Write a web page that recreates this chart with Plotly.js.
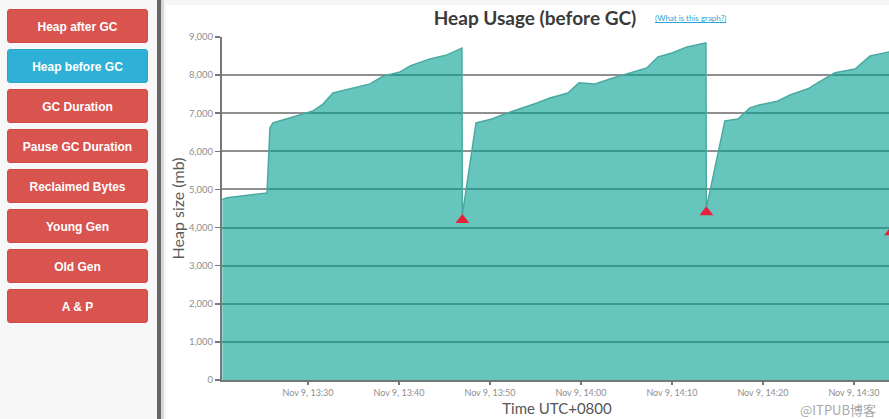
<!DOCTYPE html>
<html>
<head>
<meta charset="utf-8">
<script src="https://cdn.plot.ly/plotly-3.0.1.min.js"></script>
<style>
  html, body { margin: 0; padding: 0; width: 889px; height: 419px; overflow: hidden; background: #f6f6f6; }
  #side { position: absolute; left: 0; top: 0; width: 157px; height: 419px; background: #f7f7f7; }
  .btn { position: absolute; left: 7px; width: 141px; height: 34px; border-radius: 3px;
         background: #d9534f; color: #fff; font-family: "Liberation Sans", Arial, sans-serif;
         font-weight: bold; font-size: 12px; line-height: 34px; text-align: center;
         box-sizing: border-box; border: 1px solid #d04a47; }
  .btn.active { background: #2fb1d7; border-color: #2aa6cb; }
  #divider { position: absolute; left: 157px; top: 0; width: 4px; height: 419px; background: #666; }
  #divider2 { position: absolute; left: 161px; top: 0; width: 3px; height: 419px; background: #d8d8d8; }
  #card { position: absolute; left: 166px; top: 5px; width: 760px; height: 420px; background: #fff; }
  #chart { position: absolute; left: 0; top: 0; width: 910px; height: 419px; }
  #link { position: absolute; left: 655px; top: 13px; font-family: Lato, sans-serif; font-size: 8px;
          color: #2aa6d6; text-decoration: underline; }
  #mark { position: absolute; left: 800px; top: 402px; font-family: "Noto Sans CJK SC", sans-serif; font-size: 13px;
          line-height: 15px; color: #a8a8a8; }
</style>
</head>
<body>
<div id="card"></div>
<div id="chart"></div>
<div id="side"></div>
<div id="divider"></div>
<div id="divider2"></div>
<div id="link">(What is this graph?)</div>
<div id="mark">@ITPUB博客</div>
<script>
// ---- data ----
var buttonLabels = ["Heap after GC", "Heap before GC", "GC Duration", "Pause GC Duration",
                    "Reclaimed Bytes", "Young Gen", "Old Gen", "A & P"];
var activeButton = "Heap before GC";

var heapTimes = [
  "2016-11-09 13:20:35", "2016-11-09 13:21:06", "2016-11-09 13:25:30", "2016-11-09 13:25:49",
  "2016-11-09 13:26:09", "2016-11-09 13:30:33", "2016-11-09 13:31:39", "2016-11-09 13:32:45",
  "2016-11-09 13:36:49", "2016-11-09 13:38:14", "2016-11-09 13:40:07", "2016-11-09 13:41:13",
  "2016-11-09 13:43:24", "2016-11-09 13:45:16", "2016-11-09 13:46:55", "2016-11-09 13:46:58",
  "2016-11-09 13:48:28", "2016-11-09 13:50:13", "2016-11-09 13:51:19", "2016-11-09 13:53:38",
  "2016-11-09 13:55:10", "2016-11-09 13:56:35", "2016-11-09 13:58:34", "2016-11-09 13:59:47",
  "2016-11-09 14:01:32", "2016-11-09 14:03:31", "2016-11-09 14:05:23", "2016-11-09 14:07:15",
  "2016-11-09 14:08:28", "2016-11-09 14:10:00", "2016-11-09 14:11:39", "2016-11-09 14:13:44",
  "2016-11-09 14:13:47", "2016-11-09 14:15:49", "2016-11-09 14:17:15", "2016-11-09 14:18:34",
  "2016-11-09 14:19:40", "2016-11-09 14:21:39", "2016-11-09 14:22:58", "2016-11-09 14:24:57",
  "2016-11-09 14:26:03", "2016-11-09 14:27:55", "2016-11-09 14:30:07", "2016-11-09 14:31:46",
  "2016-11-09 14:33:51", "2016-11-09 14:34:04", "2016-11-09 14:34:05"
];
var heapValues = [
  4740, 4780, 4910, 6610,
  6745, 7060, 7240, 7530,
  7770, 7970, 8085, 8240,
  8425, 8530, 8710, 4330,
  6745, 6850, 6955, 7140,
  7270, 7400, 7530, 7800,
  7770, 7925, 8055, 8190,
  8480, 8580, 8740, 8845,
  4510, 6800, 6850, 7140,
  7220, 7320, 7480, 7640,
  7800, 8060, 8160, 8500,
  8610, 8640, 4000
];

var gcTimes = ["2016-11-09 13:46:58", "2016-11-09 14:13:47", "2016-11-09 14:34:05"];
var gcValues = [4200, 4400, 3880];

var xRange = ["2016-11-09 13:20:33", "2016-11-09 14:34:11"];
var yRange = [0, 9000];

// ---- sidebar ----
var side = document.getElementById("side");
buttonLabels.forEach(function (lab, i) {
  var d = document.createElement("div");
  d.className = "btn" + (lab === activeButton ? " active" : "");
  d.style.top = (9 + 40 * i) + "px";
  d.textContent = lab;
  side.appendChild(d);
});

// ---- chart ----
var traces = [
  {
    x: heapTimes, y: heapValues, type: "scatter", mode: "lines",
    fill: "tozeroy", fillcolor: "rgba(0,160,145,0.6)",
    line: { color: "#4aaa9f", width: 1.5 },
    hoverinfo: "x+y", showlegend: false
  },
  {
    x: gcTimes, y: gcValues, type: "scatter", mode: "markers",
    marker: { symbol: "triangle-up", size: 12, color: "#e8213a" },
    showlegend: false, cliponaxis: false
  }
];

var axisFont = { family: "Lato, sans-serif", size: 9.5, color: "#8e8e8e" };

var layout = {
  width: 910, height: 419,
  margin: { l: 222, r: 18, t: 37, b: 39 },
  paper_bgcolor: "rgba(0,0,0,0)",
  plot_bgcolor: "rgba(0,0,0,0)",
  font: { family: "Lato, sans-serif" },
  title: {
    text: "<b>Heap Usage (before GC)</b>",
    font: { family: "Lato, sans-serif", size: 19, color: "#3a3a3a" },
    xref: "container", x: 535 / 910, xanchor: "center",
    yref: "container", y: 1 - 18 / 419, yanchor: "middle"
  },
  xaxis: {
    type: "date", range: xRange,
    dtick: 600000, tick0: "2016-11-09 13:30:00",
    tickformat: "%b %-d, %H:%M",
    tickfont: { family: "Lato, sans-serif", size: 9, color: "#8e8e8e" },
    ticks: "outside", ticklen: 3, tickwidth: 1.5, tickcolor: "#777",
    showgrid: false, showline: true, linecolor: "#777", linewidth: 2,
    zeroline: false,
    title: { text: "Time UTC+0800", font: { family: "Lato, sans-serif", size: 15, color: "#555" }, standoff: 7 }
  },
  yaxis: {
    range: yRange, dtick: 1000, tickformat: ",d",
    tickfont: axisFont,
    ticks: "outside", ticklen: 5, tickwidth: 1.5, tickcolor: "#777",
    showgrid: true, gridcolor: "#8f8f8f", gridwidth: 2,
    showline: true, linecolor: "#777", linewidth: 2,
    zeroline: false,
    title: { text: "Heap size (mb)", font: { family: "Lato, sans-serif", size: 16, color: "#5a5a5a" }, standoff: 0 }
  },
  hovermode: "closest"
};

Plotly.newPlot("chart", traces, layout, { displayModeBar: false, staticPlot: true });
</script>
</body>
</html>
